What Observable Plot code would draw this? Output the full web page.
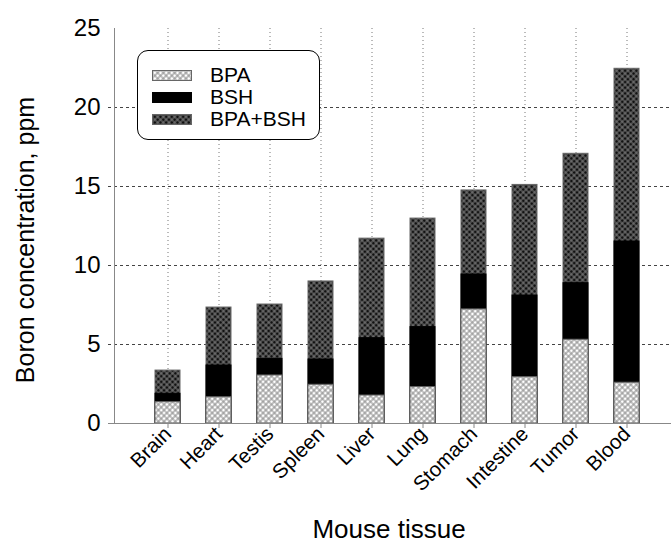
<!DOCTYPE html>
<html>
<head>
<meta charset="utf-8">
<script src="https://cdn.jsdelivr.net/npm/d3@7"></script>
<script src="https://cdn.jsdelivr.net/npm/@observablehq/plot@0.6"></script>
<style>
  html, body { margin: 0; padding: 0; background: #fff; }
  #wrap { position: relative; width: 671px; height: 543px; font-family: "Liberation Sans", Arial, sans-serif; }
  #legend { position: absolute; left: 137px; top: 50px; width: 183px; height: 90px; box-sizing: border-box;
            border: 1px solid #000; border-radius: 11px; background: #fff; }
  #legend .row { position: absolute; left: 14px; height: 22px; display: flex; align-items: center; }
  #legend .row span { font-size: 21px; margin-left: 18px; color: #000; }
</style>
</head>
<body>
<div id="wrap"></div>
<script>
const tissues = ["Brain","Heart","Testis","Spleen","Liver","Lung","Stomach","Intestine","Tumor","Blood"];
const bpa  = [1.35, 1.66, 3.04, 2.45, 1.77, 2.30, 7.22, 2.93, 5.30, 2.58];
const bsh  = [1.88, 3.67, 4.09, 4.05, 5.40, 6.10, 9.43, 8.10, 8.88, 11.52];
const both = [3.35, 7.34, 7.53, 8.99, 11.70, 12.97, 14.75, 15.10, 17.07, 22.45];
const series = ["BPA", "BSH", "BPA+BSH"];
const yTicks = [0, 5, 10, 15, 20, 25];
const gridTicks = [5, 10, 15, 20];
const yTitle = "Boron concentration, ppm";
const xTitle = "Mouse tissue";

const rows = tissues.map((t, i) => ({tissue: t, BPA: bpa[i], BSH: bsh[i], BOTH: both[i]}));
const fills = {"BPA": "url(#patLight)", "BSH": "#000", "BPA+BSH": "url(#patDark)"};

const plot = Plot.plot({
  width: 671,
  height: 543,
  marginLeft: 114,
  marginRight: 0,
  marginTop: 28,
  marginBottom: 120,
  style: {fontFamily: "'Liberation Sans', Arial, sans-serif", fontSize: "21px", color: "#000", background: "#fff"},
  x: {domain: tissues, paddingInner: 0.513, paddingOuter: 0.686, align: 0.555, label: null},
  y: {domain: [0, 25], label: null},
  marks: [
    Plot.gridX({stroke: "#777", strokeOpacity: 1, strokeDasharray: "1,3"}),
    Plot.gridY({ticks: gridTicks, stroke: "#444", strokeOpacity: 1, strokeDasharray: "3,3", insetLeft: -6}),
    Plot.barY(rows, {x: "tissue", y: "BOTH", fill: fills["BPA+BSH"], stroke: "#666", strokeWidth: 1}),
    Plot.barY(rows, {x: "tissue", y: "BSH", fill: fills["BSH"], stroke: "#000", strokeWidth: 1}),
    Plot.barY(rows, {x: "tissue", y: "BPA", fill: fills["BPA"], stroke: "#666", strokeWidth: 1}),
    Plot.ruleY([0], {stroke: "#888", insetLeft: -6}),
    Plot.frame({anchor: "left", stroke: "#888"}),
    Plot.axisY({ticks: yTicks, tickSize: 0, tickPadding: 14, fontSize: 24, label: null}),
    Plot.axisX({tickRotate: -45, tickSize: 5, tickPadding: 2, stroke: "#888", fill: "#000", fontSize: 20.5, label: null}),
    Plot.text([yTitle], {text: d => d, frameAnchor: "left", textAnchor: "middle", lineAnchor: "middle", rotate: -90, dx: -89, dy: 14, fontSize: 25, fill: "#000"}),
    Plot.text([xTitle], {text: d => d, frameAnchor: "bottom", textAnchor: "middle", lineAnchor: "middle", dx: -4, dy: 106, fontSize: 26, fill: "#000"})
  ]
});

d3.select(plot).insert("defs", ":first-child").html(`
  <pattern id="patLight" width="4" height="4" patternUnits="userSpaceOnUse" patternTransform="rotate(45)">
    <rect width="4" height="4" fill="#fff"/>
    <path d="M0 2H4M2 0V4" stroke="#8a8a8a" stroke-width="1.1"/>
  </pattern>
  <pattern id="patDark" width="4" height="4" patternUnits="userSpaceOnUse" patternTransform="rotate(45)">
    <rect width="4" height="4" fill="#111"/>
    <path d="M0 2H4M2 0V4" stroke="#8f8f8f" stroke-width="0.9"/>
  </pattern>`);

const wrap = document.getElementById("wrap");
wrap.appendChild(plot);

const legend = document.createElement("div");
legend.id = "legend";
series.forEach((s, i) => {
  const row = document.createElement("div");
  row.className = "row";
  row.style.top = (13 + i * 22) + "px";
  row.innerHTML = `<svg width="40" height="11"><rect x="0.5" y="0.5" width="39" height="10" fill="${fills[s]}" stroke="${s === 'BSH' ? '#000' : '#666'}"/></svg><span>${s}</span>`;
  legend.appendChild(row);
});
wrap.appendChild(legend);
</script>
</body>
</html>
